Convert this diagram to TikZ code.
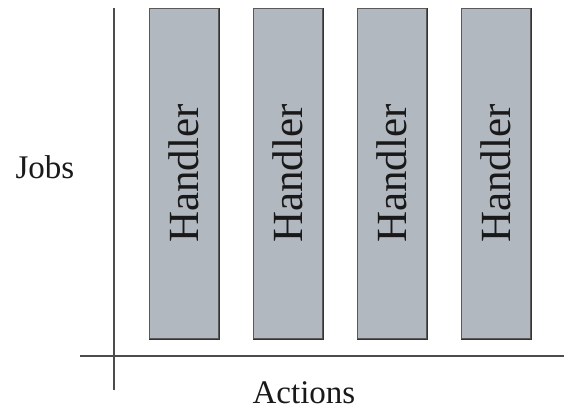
\documentclass[tikz,border=0pt]{standalone}
\usepackage{fontspec}
\setmainfont{Liberation Serif}
\begin{document}
\begin{tikzpicture}[x=1pt,y=-1pt,
  axis/.style={draw=black!70,line width=1.2pt},
  handlerbox/.style={draw=black!65,line width=1.1pt,fill=boxgray,
    minimum width=69pt,minimum height=330pt,anchor=north west,inner sep=0pt},
  handlertext/.style={rotate=90,font=\fontsize{43}{43}\selectfont,text=black!90},
  label/.style={font=\fontsize{33}{33}\selectfont,text=black!90}]
\definecolor{boxgray}{RGB}{178,184,191}
\useasboundingbox (0,0) rectangle (568,412);
% axes
\coordinate (ytop) at (114,8);
\coordinate (ybot) at (114,390);
\coordinate (xleft) at (80,356);
\coordinate (xright) at (564,356);
\draw[axis] (ytop) -- (ybot);
\draw[axis] (xleft) -- (xright);
% handler columns, with a thin darker edge on the right and bottom
\foreach \i/\x in {1/149,2/253,3/357,4/461}{
  \node[handlerbox] (h\i) at (\x,8) {};
  \draw[black!80,line width=1.2pt] ([xshift=0.6pt]h\i.north east) -- ([xshift=0.6pt,yshift=-0.6pt]h\i.south east) -- ([yshift=-0.6pt]h\i.south west);
  \node[handlertext] (t\i) at (h\i.center) {Handler};
}
% axis labels
\node[label] (jobs) at (45,167) {Jobs};
\node[label] (actions) at (304,393) {Actions};
\end{tikzpicture}
\end{document}
